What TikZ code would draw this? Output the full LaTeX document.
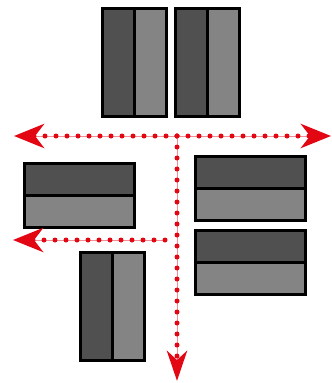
\documentclass[tikz,border=0pt]{standalone}
\usetikzlibrary{arrows.meta}
\definecolor{darkg}{HTML}{505050}
\definecolor{lightg}{HTML}{848484}
\definecolor{arrred}{HTML}{E30613}
\begin{document}
\begin{tikzpicture}[x=1pt,y=-1pt,
  bx/.style={draw=black, line width=3pt, inner sep=0pt, fill=lightg},
  vbx/.style={bx, minimum width=64pt, minimum height=108pt,
    path picture={\fill[darkg] (path picture bounding box.north west) rectangle (path picture bounding box.south);
      \draw[line width=3pt] (path picture bounding box.north) -- (path picture bounding box.south);}},
  hbx/.style={bx, minimum width=110pt, minimum height=64pt,
    path picture={\fill[darkg] (path picture bounding box.north west) rectangle (path picture bounding box.east);
      \draw[line width=3pt] (path picture bounding box.west) -- (path picture bounding box.east);}},
  flow/.style={draw=arrred, line width=5pt, line cap=round, dash pattern=on 0pt off 11pt,
    -{Stealth[length=30pt,width=24pt,inset=9pt,fill=arrred]},
    preaction={draw=arrred!45, line width=1pt, dash pattern=, arrows=-, shorten >=20pt}},
  vflow/.style={flow, -{Stealth[length=30pt,width=20pt,inset=9pt,fill=arrred]}}
]
\useasboundingbox (0,0) rectangle (332,383);
\node[vbx] (t1) at (134,62) {};
\node[vbx] (t2) at (207.5,62) {};
\node[hbx] (l1) at (79.5,195) {};
\node[hbx] (r1) at (250,188) {};
\node[hbx] (r2) at (250,262) {};
\node[vbx] (b1) at (112.5,306.5) {};
\coordinate (j) at (177,136);
\coordinate (eL) at (14,136);
\coordinate (eR) at (331,136);
\coordinate (eD) at (177,381);
\coordinate (s2) at (165,240);
\coordinate (e2) at (13,240);
\draw[flow] (j) -- (eL);
\draw[flow] (j) -- (eR);
\draw[vflow] (j) -- (eD);
\draw[flow] (s2) -- (e2);
\end{tikzpicture}
\end{document}
